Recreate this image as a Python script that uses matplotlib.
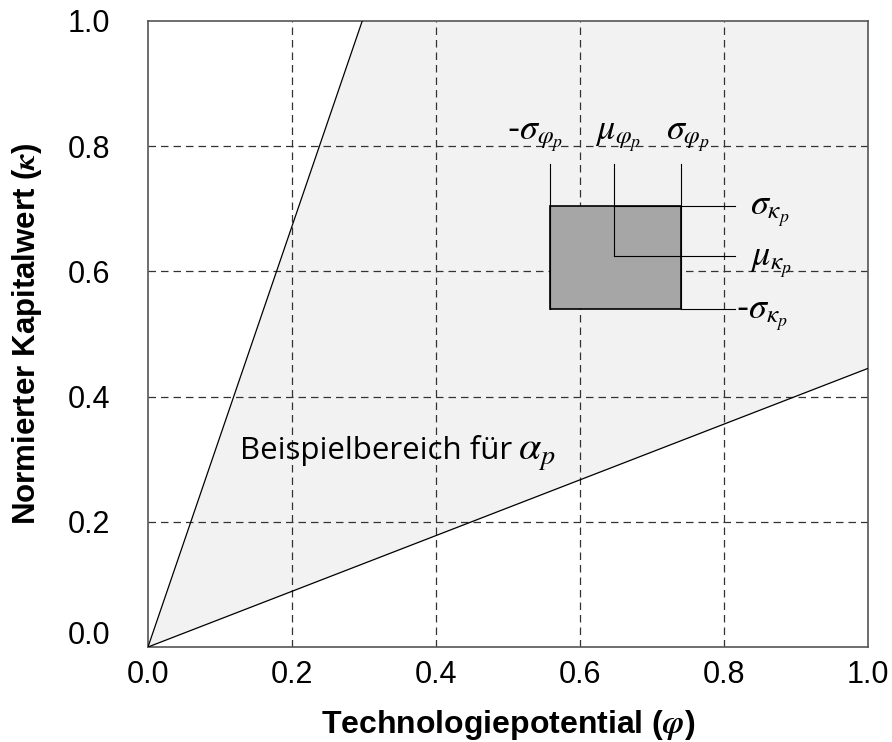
import numpy as np
import matplotlib
matplotlib.use('Agg')
import matplotlib.pyplot as plt
import matplotlib.transforms as mtransforms
from matplotlib.patches import Rectangle

# Bereichsgrenzen (Steigungen der Geraden durch den Ursprung)
steil = 3.36
flach = 0.445

# Beispielportfolio p
phi_lo, phi_mu, phi_hi = 0.558, 0.648, 0.740
kap_lo, kap_mu, kap_hi = 0.540, 0.624, 0.705

ticks = [0.0, 0.2, 0.4, 0.6, 0.8, 1.0]
tick_labels = ['0.0', '0.2', '0.4', '0.6', '0.8', '1.0']

plt.rcParams['font.family'] = ['Liberation Sans', 'DejaVu Sans']
plt.rcParams['mathtext.fontset'] = 'stix'

fig = plt.figure(figsize=(8.92, 7.42), dpi=100)
ax = fig.add_axes([0.1659, 0.128, 0.807, 0.8437])

x = np.linspace(0, 1, 400)
ax.fill_between(x, flach * x, np.minimum(steil * x, 1.0), color='#f2f2f2', lw=0, zorder=0)
ax.plot([0, 1 / steil], [0, 1], color='black', lw=0.9, zorder=3)
ax.plot([0, 1], [0, flach], color='black', lw=0.9, zorder=3)

ax.set_xlim(0, 1)
ax.set_ylim(0, 1)
ax.set_xticks(ticks)
ax.set_yticks(ticks)
ax.set_xticklabels(tick_labels)
ax.set_yticklabels(tick_labels)
ax.tick_params(length=0, labelsize=22)
ax.tick_params(axis='x', pad=9)
ax.tick_params(axis='y', pad=27)
# "0.0" an der y-Achse sitzt im Original etwas höher
lab0 = ax.get_yticklabels()[0]
lab0.set_transform(lab0.get_transform() + mtransforms.ScaledTranslation(0, 15 / 100, fig.dpi_scale_trans))

for g in [0.2, 0.4, 0.6, 0.8]:
    ax.axvline(g, color='#333333', lw=0.9, ls=(0, (6, 4)), zorder=1)
    ax.axhline(g, color='#333333', lw=0.9, ls=(0, (6, 4)), zorder=1)
for s in ax.spines.values():
    s.set_color('#555555')
    s.set_linewidth(1.2)

# Portfolio-Rechteck
ax.add_patch(Rectangle((phi_lo, kap_lo), phi_hi - phi_lo, kap_hi - kap_lo,
                       facecolor='#a6a6a6', edgecolor='black', lw=1.2, zorder=4))
top = 0.772
right = 0.815
ax.plot([phi_lo, phi_lo], [kap_lo, top], color='black', lw=0.8, zorder=5)
ax.plot([phi_mu, phi_mu], [kap_mu, top], color='black', lw=0.8, zorder=5)
ax.plot([phi_hi, phi_hi], [kap_lo, top], color='black', lw=0.8, zorder=5)
ax.plot([phi_mu, right], [kap_hi, kap_hi], color='black', lw=0.8, zorder=5)
ax.plot([phi_mu, right], [kap_mu, kap_mu], color='black', lw=0.8, zorder=5)
ax.plot([phi_hi, right], [kap_lo, kap_lo], color='black', lw=0.8, zorder=5)

fs = 26
ax.text(phi_lo - 0.02, 0.815, r'-$\sigma_{\varphi_p}$', fontsize=fs, ha='center', va='center')
ax.text(phi_mu + 0.005, 0.815, r'$\mu_{\varphi_p}$', fontsize=fs, ha='center', va='center')
ax.text(phi_hi + 0.01, 0.815, r'$\sigma_{\varphi_p}$', fontsize=fs, ha='center', va='center')
ax.text(0.836, kap_hi - 0.01, r'$\sigma_{\kappa_p}$', fontsize=fs, ha='left', va='center')
ax.text(0.836, kap_mu - 0.01, r'$\mu_{\kappa_p}$', fontsize=fs, ha='left', va='center')
ax.text(0.817, kap_lo - 0.01, r'-$\sigma_{\kappa_p}$', fontsize=fs, ha='left', va='center')

ax.text(0.128, 0.300, 'Beispielbereich für', fontsize=22.5, ha='left', va='baseline',
        family=['Open Sans', 'DejaVu Sans'])
ax.text(0.514, 0.300, r'$\alpha_p$', fontsize=29, ha='left', va='baseline')

ax.set_xlabel(r'Technologiepotential ($\mathbfit{\varphi}$)', fontsize=23, fontweight='bold')
ax.set_ylabel(r'Normierter Kapitalwert ($\mathbfit{\kappa}$)', fontsize=22.5, fontweight='bold')
ax.xaxis.label.set_va('center')
ax.yaxis.label.set_va('center')
ax.xaxis.set_label_coords(0.5, -0.125)
ax.yaxis.set_label_coords(-0.168, 0.5)

fig.savefig('out.png', dpi=100)
